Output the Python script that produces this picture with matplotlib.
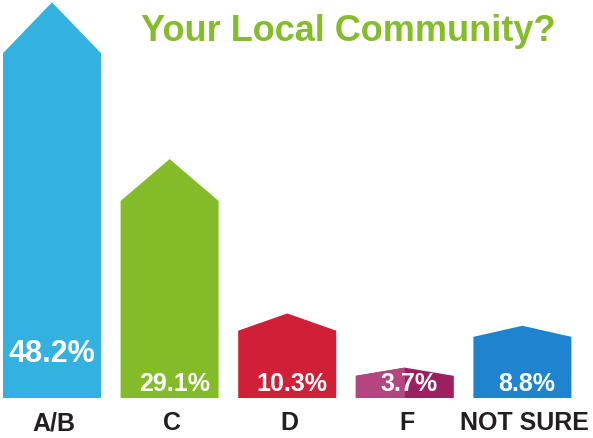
import numpy as np
import matplotlib
matplotlib.use('Agg')  # no GUI
import matplotlib.pyplot as plt
from matplotlib.patches import Polygon

plt.rcParams['font.family'] = ['Liberation Sans', 'DejaVu Sans']

# ── Data ──
title = "Your Local Community?"
categories = ["A/B", "C", "D", "F", "NOT SURE"]
values = [48.2, 29.1, 10.3, 3.7, 8.8]
labels = ["48.2%", "29.1%", "10.3%", "3.7%", "8.8%"]

colors = ["#33B1E1", "#84BB29", "#D01F36", "#9E1F5F", "#1E84D0"]
left_shade = [None, None, None, "#B4457F", None]   # F bar is two-tone
roof = [6.2, 5.1, 2.1, 1.0, 1.35]                   # roof height (data units)

W, H = 593, 438
fig = plt.figure(figsize=(W / 100, H / 100), dpi=100)
ax = fig.add_axes([0, 40 / H, 1, 398 / H])

step = 117.6
bw = 98 / step
x = np.arange(len(values))

for i, (v, c) in enumerate(zip(values, colors)):
    l, r = x[i] - bw / 2, x[i] + bw / 2
    sh = v - roof[i]
    ax.add_patch(Polygon([(l, 0), (r, 0), (r, sh), (x[i], v), (l, sh)],
                         closed=True, facecolor=c, edgecolor='none'))
    if left_shade[i]:
        ax.add_patch(Polygon([(l, 0), (x[i], 0), (x[i], v), (l, sh)],
                             closed=True, facecolor=left_shade[i], edgecolor='none'))

    # value label inside the bar
    if i == 0:
        ax.text(x[i], 4.4, labels[i], ha='center', va='baseline',
                color='white', fontsize=22, fontweight='bold')
    else:
        ax.text(x[i] + 0.04, 0.85, labels[i], ha='center', va='baseline',
                color='white', fontsize=18, fontweight='bold')

    # category label below
    ax.text(x[i] + 0.02, -3.9, categories[i], ha='center', va='baseline',
            color='#231F20', fontsize=18, fontweight='bold', clip_on=False)

ax.set_xlim(-52 / step, (W - 52) / step)
ax.set_ylim(0, 398 / 8.21)
ax.axis('off')

fig.text(348.5 / W, (H - 40.7) / H, title, ha='center', va='baseline',
         color='#84BC2A', fontsize=26, fontweight='bold')

plt.savefig("out.png", dpi=100)
